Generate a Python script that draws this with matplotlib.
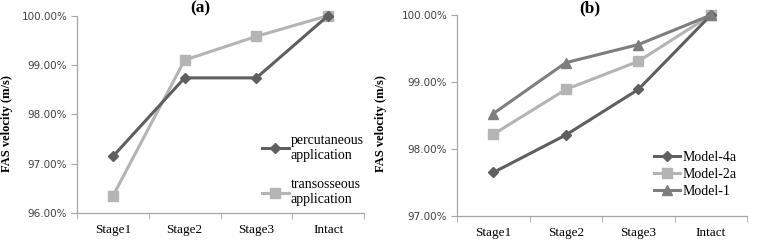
import matplotlib.pyplot as plt

# category labels shared by both panels
stages = ["Stage1", "Stage2", "Stage3", "Intact"]

# panel (a) values (%)
percutaneous = [97.15, 98.74, 98.74, 100.0]
transosseous = [96.35, 99.10, 99.58, 100.0]

# panel (b) values (%)
model_4a = [97.65, 98.21, 98.89, 100.0]
model_2a = [98.22, 98.89, 99.31, 100.0]
model_1 = [98.53, 99.29, 99.56, 100.0]

a_ticks = [96, 97, 98, 99, 100]
b_ticks = [97, 98, 99, 100]

DARK = "#5f5f5f"
LIGHT = "#b4b4b4"
MID = "#7e7e7e"
AXIS = "#a6a6a6"
SERIF = "Liberation Serif"


def style_axis(ax, yticks):
    x = list(range(len(stages)))
    ax.set_xlim(-0.5, len(stages) - 0.5)
    ax.set_ylim(yticks[0], yticks[-1])
    ax.set_yticks(yticks)
    ax.set_yticklabels([f"{t:.2f}%" for t in yticks], fontsize=7.5,
                       color="#404040", family="DejaVu Sans")
    ax.set_xticks(x)
    ax.set_xticklabels(stages, fontsize=9.5, family=SERIF)
    ax.tick_params(axis="x", which="major", length=0, pad=8)
    ax.set_xticks([i - 0.5 for i in range(len(stages) + 1)], minor=True)
    ax.tick_params(axis="x", which="minor", length=4, color=AXIS, direction="out")
    ax.tick_params(axis="y", length=4, color=AXIS, direction="out", pad=3)
    for side in ["top", "right"]:
        ax.spines[side].set_visible(False)
    for side in ["left", "bottom"]:
        ax.spines[side].set_color(AXIS)
        ax.spines[side].set_linewidth(0.9)
    return x


fig = plt.figure(figsize=(7.58, 2.48), dpi=100)

ax1 = fig.add_axes([0.1016, 0.140, 0.3786, 0.797])
x = style_axis(ax1, a_ticks)
ax1.plot(x, percutaneous, color=DARK, lw=2.2, marker="D", ms=5,
         label="percutaneous\napplication", clip_on=False, zorder=3)
ax1.plot(x, transosseous, color=LIGHT, lw=2.2, marker="s", ms=7.5,
         label="transosseous\napplication", clip_on=False, zorder=2)
ax1.legend(loc="lower left", bbox_to_anchor=(0.645, 0.035), frameon=False,
           prop={"family": SERIF, "size": 10}, handlelength=1.9,
           handletextpad=0.15, labelspacing=1.2, borderaxespad=0,
           borderpad=0)

ax2 = fig.add_axes([0.603, 0.129, 0.3826, 0.81])
x = style_axis(ax2, b_ticks)
ax2.plot(x, model_4a, color=DARK, lw=2.2, marker="D", ms=5,
         label="Model-4a", clip_on=False, zorder=3)
ax2.plot(x, model_2a, color=LIGHT, lw=2.2, marker="s", ms=7.5,
         label="Model-2a", clip_on=False, zorder=2)
ax2.plot(x, model_1, color=MID, lw=2.2, marker="^", ms=7.5,
         label="Model-1", clip_on=False, zorder=4)
ax2.legend(loc="lower left", bbox_to_anchor=(0.679, 0.09), frameon=False,
           prop={"family": SERIF, "size": 10}, handlelength=1.9,
           handletextpad=0.15, labelspacing=0.3, borderaxespad=0,
           borderpad=0)

fig.text(200 / 758, 1 - 8 / 248, "(a)", ha="center", va="center",
         fontsize=12.5, fontweight="bold", family=SERIF)
fig.text(590 / 758, 1 - 8 / 248, "(b)", ha="center", va="center",
         fontsize=12.5, fontweight="bold", family=SERIF)
fig.text(7 / 758, 0.5, "FAS velocity (m/s)", rotation=90, ha="center",
         va="center", fontsize=9, fontweight="bold", family=SERIF)
fig.text(381 / 758, 0.5, "FAS velocity (m/s)", rotation=90, ha="center",
         va="center", fontsize=9, fontweight="bold", family=SERIF)

fig.savefig("out.png", dpi=100)
